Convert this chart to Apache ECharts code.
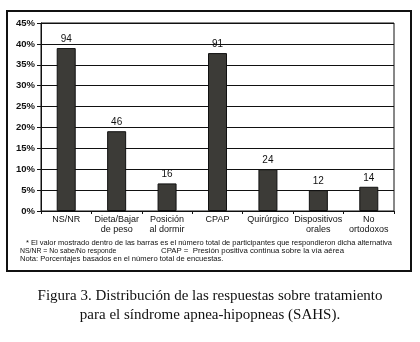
<!DOCTYPE html>
<html>
<head>
<meta charset="utf-8">
<script src="https://cdn.jsdelivr.net/npm/echarts@6/dist/echarts.min.js"></script>
<style>
    html, body { margin: 0; padding: 0; background: #fff; }
    #chart { width: 420px; height: 342px; }
</style>
</head>
<body>
<div id="chart"></div>
<script>
// categories and values (percent of all surveys, count on top)
let categories = ['NS/NR', 'Dieta/Bajar\nde peso', 'Posición\nal dormir', 'CPAP', 'Quirúrgico', 'Dispositivos\norales', 'No\nortodoxos'];
let percentValues = [39.0, 19.1, 6.6, 37.8, 10.0, 5.0, 5.8];
let countLabels = [94, 46, 16, 91, 24, 12, 14];
let footnotes = [
    '* El valor mostrado dentro de las barras es el número total de participantes que respondieron dicha alternativa',
    'NS/NR = No sabe/No responde',
    'CPAP =  Presión positiva continua sobre la vía aérea',
    'Nota: Porcentajes basados en el número total de encuestas.'
];
let captionLines = [
    'Figura 3. Distribución de las respuestas sobre tratamiento',
    'para el síndrome apnea-hipopneas (SAHS).'
];

let font = '"Liberation Sans", Arial, sans-serif';
let serif = '"Liberation Serif", "Times New Roman", serif';

function note(text, x, y, size) {
    return {
        type: 'text',
        x: x,
        y: y,
        style: { text: text, font: size + 'px ' + font, fill: '#111', verticalAlign: 'middle' }
    };
}

let option = {
    animation: false,
    grid: {
        left: 41,
        right: 26,
        top: 23,
        bottom: 131,
        show: true,
        borderColor: '#111',
        borderWidth: 1
    },
    xAxis: {
        type: 'category',
        data: categories,
        axisLine: { lineStyle: { color: '#111', width: 1 } },
        axisTick: { show: true, interval: 0, length: 3, lineStyle: { color: '#111' } },
        axisLabel: {
            interval: 0,
            margin: 4,
            color: '#111',
            fontFamily: font,
            fontSize: 9,
            lineHeight: 10
        }
    },
    yAxis: {
        type: 'value',
        min: 0,
        max: 45,
        interval: 5,
        axisLine: { show: true, lineStyle: { color: '#111', width: 1 } },
        axisTick: { show: true, length: 4, lineStyle: { color: '#111' } },
        splitLine: { lineStyle: { color: '#111', width: 1 } },
        axisLabel: {
            formatter: '{value}%',
            margin: 6,
            color: '#111',
            fontFamily: font,
            fontSize: 9.5,
            fontWeight: 'bold'
        }
    },
    series: [
        {
            type: 'bar',
            data: percentValues,
            barWidth: 19,
            itemStyle: {
                color: '#3c3b37',
                borderColor: '#111',
                borderWidth: 1
            },
            label: {
                show: true,
                position: 'top',
                distance: 4,
                color: '#111',
                fontFamily: font,
                fontSize: 10,
                formatter: function (p) {
                    return countLabels[p.dataIndex];
                }
            }
        }
    ],
    graphic: [
        {
            type: 'rect',
            shape: { x: 7, y: 11, width: 404, height: 260 },
            style: { fill: 'none', stroke: '#111', lineWidth: 2 }
        },
        note(footnotes[0], 26, 243, 7.5),
        note(footnotes[1], 20, 251, 6.9),
        note(footnotes[2], 161, 251, 7.8),
        note(footnotes[3], 20, 259, 7.6),
        {
            type: 'text',
            x: 210, y: 296,
            style: {
                text: captionLines[0],
                font: '15px ' + serif,
                fill: '#111',
                align: 'center',
                verticalAlign: 'middle'
            }
        },
        {
            type: 'text',
            x: 210, y: 315,
            style: {
                text: captionLines[1],
                font: '15px ' + serif,
                fill: '#111',
                align: 'center',
                verticalAlign: 'middle'
            }
        }
    ]
};

let chart = echarts.init(document.getElementById('chart'));
chart.setOption(option);
</script>
</body>
</html>
